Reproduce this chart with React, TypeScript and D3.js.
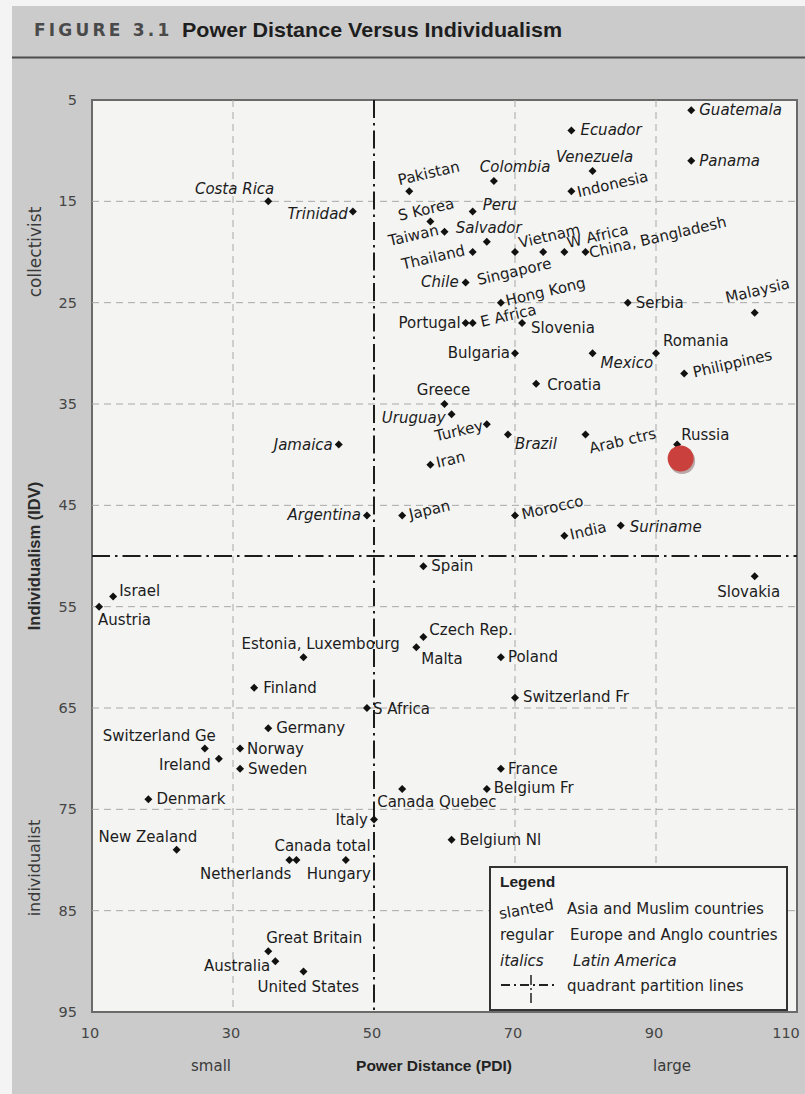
import React from 'react';
import * as d3 from 'd3';

// ---------- data ----------
const countries = [
  'Guatemala', 'Ecuador', 'Panama', 'Venezuela', 'Colombia', 'Costa Rica', 'Peru', 'Trinidad',
  'Salvador', 'Chile', 'Mexico', 'Uruguay', 'Brazil', 'Jamaica', 'Argentina', 'Suriname',
  'Pakistan', 'Indonesia', 'Taiwan', 'S Korea', 'Thailand', 'Vietnam', 'Singapore', 'W Africa',
  'China, Bangladesh', 'Hong Kong', 'Malaysia', 'E Africa', 'Philippines', 'Turkey', 'Arab ctrs',
  'Iran', 'Japan', 'Morocco', 'India',
  'Serbia', 'Portugal', 'Slovenia', 'Bulgaria', 'Romania', 'Croatia', 'Greece', 'Russia', 'Spain',
  'Slovakia', 'Israel', 'Austria', 'Czech Rep.', 'Malta', 'Estonia, Luxembourg', 'Poland', 'Finland',
  'Switzerland Fr', 'S Africa', 'Germany', 'Switzerland Ge', 'Norway', 'Ireland', 'Sweden', 'France',
  'Belgium Fr', 'Canada Quebec', 'Denmark', 'Italy', 'Belgium Nl', 'New Zealand', 'Netherlands',
  'Canada total', 'Hungary', 'Great Britain', 'Australia', 'United States',
];
const pdiValues = [
  95, 78, 95, 81, 67, 35, 64, 47,
  66, 63, 81, 61, 69, 45, 49, 85,
  55, 78, 58, 60, 64, 70, 74, 77,
  80, 68, 104, 64, 94, 66, 80,
  58, 54, 70, 77,
  86, 63, 71, 70, 90, 73, 60, 93, 57,
  104, 13, 11, 57, 56, 40, 68, 33,
  70, 49, 35, 26, 31, 28, 31, 68,
  66, 54, 18, 50, 61, 22, 38,
  39, 46, 35, 36, 40,
];
const idvValues = [
  6, 8, 11, 12, 13, 15, 16, 16,
  19, 23, 30, 36, 38, 39, 46, 47,
  14, 14, 17, 18, 20, 20, 20, 20,
  20, 25, 26, 27, 32, 37, 38,
  41, 46, 46, 48,
  25, 27, 27, 30, 30, 33, 35, 39, 51,
  52, 54, 55, 58, 59, 60, 60, 63,
  64, 65, 67, 69, 69, 70, 71, 71,
  73, 73, 74, 76, 78, 79, 80,
  80, 80, 89, 90, 91,
];
// A = Asia & Muslim (slanted), E = Europe & Anglo (regular), L = Latin America (italics)
const regionCodes = [
  'L', 'L', 'L', 'L', 'L', 'L', 'L', 'L',
  'L', 'L', 'L', 'L', 'L', 'L', 'L', 'L',
  'A', 'A', 'A', 'A', 'A', 'A', 'A', 'A',
  'A', 'A', 'A', 'A', 'A', 'A', 'A',
  'A', 'A', 'A', 'A',
  'E', 'E', 'E', 'E', 'E', 'E', 'E', 'E', 'E',
  'E', 'E', 'E', 'E', 'E', 'E', 'E', 'E',
  'E', 'E', 'E', 'E', 'E', 'E', 'E', 'E',
  'E', 'E', 'E', 'E', 'E', 'E', 'E',
  'E', 'E', 'E', 'E', 'E',
];

const xTicks = [10, 30, 50, 70, 90, 110];
const yTicks = [5, 15, 25, 35, 45, 55, 65, 75, 85, 95];
const xGrid = [30, 70, 90];
const yGrid = [15, 25, 35, 45, 55, 65, 75, 85];
const partitionPdi = 50;
const partitionIdv = 50;
const highlightCountry = 'Russia';

const legendKeys = ['slanted', 'regular', 'italics'];
const legendTexts = ['Asia and Muslim countries', 'Europe and Anglo countries', 'Latin America'];

// ---------- label placement (style only) : [dx, dy, anchor] ----------
const labelLayout: Record<string, [number, number, string]> = {
  Guatemala: [8, 5, 'start'],
  Ecuador: [9, 5, 'start'],
  Panama: [8, 5, 'start'],
  Venezuela: [2, -9, 'middle'],
  Colombia: [-14, -9, 'start'],
  'Costa Rica': [6, -7, 'end'],
  Peru: [10, -1, 'start'],
  Trinidad: [-5, 8, 'end'],
  Salvador: [-31, -9, 'start'],
  Chile: [-7, 5, 'end'],
  Mexico: [8, 15, 'start'],
  Uruguay: [-6, 9, 'end'],
  Brazil: [7, 15, 'start'],
  Jamaica: [-6, 5, 'end'],
  Argentina: [-6, 5, 'end'],
  Suriname: [9, 6, 'start'],
  Pakistan: [-10, -6, 'start'],
  Indonesia: [7, 6, 'start'],
  Taiwan: [9, 13, 'end'],
  'S Korea': [-45, -11, 'start'],
  Thailand: [-7, 3, 'end'],
  Vietnam: [5, -4, 'start'],
  Singapore: [9, 16, 'end'],
  'W Africa': [4, -4, 'start'],
  'China, Bangladesh': [5, 6, 'start'],
  'Hong Kong': [6, 3, 'start'],
  Malaysia: [-28, -10, 'start'],
  'E Africa': [9, 4, 'start'],
  Philippines: [10, 4, 'start'],
  Turkey: [-3, 6, 'end'],
  'Arab ctrs': [5, 19, 'start'],
  Iran: [7, 3, 'start'],
  Japan: [8, 4, 'start'],
  Morocco: [8, 4, 'start'],
  India: [7, 4, 'start'],
  Serbia: [8, 5, 'start'],
  Portugal: [-5, 5, 'end'],
  Slovenia: [9, 10, 'start'],
  Bulgaria: [-5, 5, 'end'],
  Romania: [7, -7, 'start'],
  Croatia: [11, 6, 'start'],
  Greece: [-1, -9, 'middle'],
  Russia: [4, -5, 'start'],
  Spain: [8, 5, 'start'],
  Slovakia: [-6, 21, 'middle'],
  Israel: [6, -1, 'start'],
  Austria: [-1, 18, 'start'],
  'Czech Rep.': [6, -2, 'start'],
  Malta: [5, 17, 'start'],
  'Estonia, Luxembourg': [-62, -8, 'start'],
  Poland: [7, 5, 'start'],
  Finland: [9, 5, 'start'],
  'Switzerland Fr': [8, 4, 'start'],
  'S Africa': [6, 6, 'start'],
  Germany: [8, 5, 'start'],
  'Switzerland Ge': [11, -8, 'end'],
  Norway: [7, 5, 'start'],
  Ireland: [-8, 11, 'end'],
  Sweden: [8, 5, 'start'],
  France: [7, 5, 'start'],
  'Belgium Fr': [7, 4, 'start'],
  'Canada Quebec': [-25, 18, 'start'],
  Denmark: [8, 5, 'start'],
  Italy: [-6, 6, 'end'],
  'Belgium Nl': [8, 5, 'start'],
  'New Zealand': [-78, -8, 'start'],
  Netherlands: [2, 19, 'end'],
  'Canada total': [-22, -9, 'start'],
  Hungary: [-7, 19, 'middle'],
  'Great Britain': [-2, -8, 'start'],
  Australia: [-5, 10, 'end'],
  'United States': [-46, 21, 'start'],
};

const FONT = '"DejaVu Sans", Verdana, sans-serif';
const BOLD = '"Liberation Sans", Arial, sans-serif';

export default function App() {
  const W = 805;
  const H = 1094;
  const left = 92, right = 797, top = 100, bottom = 1012;
  const x = d3.scaleLinear().domain([10, 110]).range([left, right]);
  const y = d3.scaleLinear().domain([5, 95]).range([top, bottom]);
  const diamond = d3.symbol().type(d3.symbolSquare).size(32)() as string;

  const points = countries.map((name, i) => ({
    name,
    px: x(pdiValues[i]),
    py: y(idvValues[i]),
    region: regionCodes[i],
  }));
  const hi = points.find((p) => p.name === highlightCountry)!;

  return (
    <svg width={W} height={H} style={{ position: 'absolute', left: 0, top: 0, display: 'block' }}>
      <rect x={0} y={0} width={W} height={H} fill="#f4f4f4" />
      <rect x={12} y={6} width={W - 12} height={H - 6} fill="#cbcbcb" />

      {/* title */}
      <text x={34} y={36} fontFamily={'"DejaVu Sans", sans-serif'} fontWeight="bold" fontSize={17}
        letterSpacing={3.2} fill="#4a4a4a">FIGURE 3.1</text>
      <text x={182} y={37} fontFamily={BOLD} fontWeight="bold" fontSize={21} fill="#1e1e1e"
        textLength={380} lengthAdjust="spacingAndGlyphs">Power Distance Versus Individualism</text>
      <line x1={12} x2={W} y1={57.5} y2={57.5} stroke="#4d4d4d" strokeWidth={2} />

      {/* plot area */}
      <rect x={left} y={top} width={right - left} height={bottom - top} fill="#f4f4f3" stroke="#6a6a6a" strokeWidth={2} />

      {/* grid */}
      {xGrid.map((v) => (
        <line key={'gx' + v} x1={x(v)} x2={x(v)} y1={top} y2={bottom} stroke="#a8a8a8" strokeWidth={1} strokeDasharray="7,5" />
      ))}
      {yGrid.map((v) => (
        <line key={'gy' + v} x1={left} x2={right} y1={y(v)} y2={y(v)} stroke="#a8a8a8" strokeWidth={1} strokeDasharray="7,5" />
      ))}

      {/* quadrant partition lines */}
      <line x1={x(partitionPdi)} x2={x(partitionPdi)} y1={top} y2={bottom} stroke="#1c1c1c" strokeWidth={2} strokeDasharray="18,5,2.5,5" />
      <line x1={left} x2={right} y1={y(partitionIdv)} y2={y(partitionIdv)} stroke="#1c1c1c" strokeWidth={2} strokeDasharray="18,5,2.5,5" />

      {/* ticks labels */}
      {yTicks.map((v) => (
        <text key={'ty' + v} x={77} y={y(v)} dy="0.35em" textAnchor="end" fontFamily={FONT} fontSize={14.5} fill="#454545">{v}</text>
      ))}
      {xTicks.map((v) => (
        <text key={'tx' + v} x={Math.min(x(v) - 2, 786)} y={1038} textAnchor="middle" fontFamily={FONT} fontSize={14.5} fill="#454545">{v}</text>
      ))}

      {/* axis titles */}
      <text x={211} y={1071} textAnchor="middle" fontFamily={FONT} fontSize={15} fill="#3a3a3a">small</text>
      <text x={434} y={1071} textAnchor="middle" fontFamily={BOLD} fontWeight="bold" fontSize={15.5} fill="#222">Power Distance (PDI)</text>
      <text x={672} y={1071} textAnchor="middle" fontFamily={FONT} fontSize={15} fill="#3a3a3a">large</text>
      <text transform={`translate(40,556) rotate(-90)`} textAnchor="middle" fontFamily={BOLD} fontWeight="bold" fontSize={16.5} fill="#2a2a2a">Individualism (IDV)</text>
      <text transform={`translate(41,252) rotate(-90)`} textAnchor="middle" fontFamily={FONT} fontSize={17} fill="#3a3a3a">collectivist</text>
      <text transform={`translate(40,868) rotate(-90)`} textAnchor="middle" fontFamily={FONT} fontSize={16} fill="#3a3a3a">individualist</text>

      {/* markers */}
      {points.map((p) => (
        <path key={'m' + p.name} d={diamond} transform={`translate(${p.px},${p.py}) rotate(45)`} fill="#111" />
      ))}

      {/* labels */}
      {points.map((p) => {
        const [dx, dy, anchor] = labelLayout[p.name] || [7, 5, 'start'];
        const rot = p.region === 'A' ? -13 : 0;
        return (
          <text key={'l' + p.name} transform={`translate(${p.px + dx},${p.py + dy}) rotate(${rot})`}
            textAnchor={anchor} fontFamily={FONT} fontSize={15}
            fontStyle={p.region === 'L' ? 'italic' : 'normal'} fill="#1c1c1c">{p.name}</text>
        );
      })}

      {/* highlight marker */}
      <circle cx={hi.px + 5} cy={hi.py + 16.5} r={13} fill="#8a6a6a" opacity={0.55} />
      <circle cx={hi.px + 3.5} cy={hi.py + 14} r={13} fill="#c9403c" />

      {/* legend */}
      <rect x={490} y={867} width={297} height={143} fill="#f6f6f5" stroke="#333" strokeWidth={2} />
      <text x={500} y={887} fontFamily={BOLD} fontWeight="bold" fontSize={15.5} fill="#222">Legend</text>
      {legendKeys.map((k, i) => {
        const yy = 914 + i * 26;
        return (
          <g key={'lg' + k}>
            <text transform={`translate(500,${yy + (i === 0 ? 5 : 0)}) rotate(${i === 0 ? -10 : 0})`} fontFamily={FONT} fontSize={15}
              fontStyle={i === 2 ? 'italic' : 'normal'} fill="#222">{k}</text>
            <text x={i === 0 ? 567 : i === 1 ? 570 : 573} y={yy} fontFamily={FONT} fontSize={15}
              fontStyle={i === 2 ? 'italic' : 'normal'} fill="#222">{legendTexts[i]}</text>
          </g>
        );
      })}
      <line x1={501} x2={557} y1={985} y2={985} stroke="#222" strokeWidth={1.8} strokeDasharray="9,4,2,4" />
      <line x1={531} x2={531} y1={975} y2={1003} stroke="#222" strokeWidth={1.5} strokeDasharray="10,3,2,3" />
      <text x={567} y={991} fontFamily={FONT} fontSize={15} fill="#222">quadrant partition lines</text>
    </svg>
  );
}
